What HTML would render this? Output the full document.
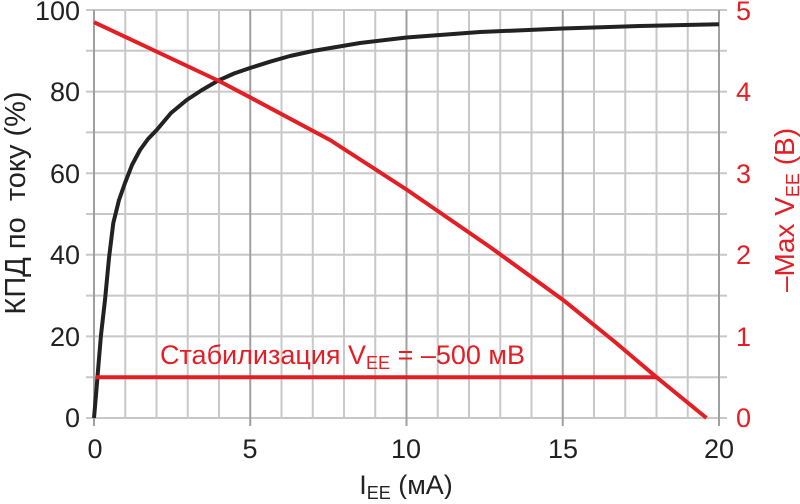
<!DOCTYPE html><html><head><style>body{margin:0;background:#fff}</style></head><body>
<svg width="800" height="499" xmlns="http://www.w3.org/2000/svg" font-family="Liberation Sans, sans-serif">
<g stroke="#c8c8c8" stroke-width="2">
<line x1="125.25" y1="10" x2="125.25" y2="418"/><line x1="156.5" y1="10" x2="156.5" y2="418"/><line x1="187.75" y1="10" x2="187.75" y2="418"/><line x1="219" y1="10" x2="219" y2="418"/>
<line x1="281.5" y1="10" x2="281.5" y2="418"/><line x1="312.75" y1="10" x2="312.75" y2="418"/><line x1="344" y1="10" x2="344" y2="418"/><line x1="375.25" y1="10" x2="375.25" y2="418"/>
<line x1="437.75" y1="10" x2="437.75" y2="418"/><line x1="469" y1="10" x2="469" y2="418"/><line x1="500.25" y1="10" x2="500.25" y2="418"/><line x1="531.5" y1="10" x2="531.5" y2="418"/>
<line x1="594" y1="10" x2="594" y2="418"/><line x1="625.25" y1="10" x2="625.25" y2="418"/><line x1="656.5" y1="10" x2="656.5" y2="418"/><line x1="687.75" y1="10" x2="687.75" y2="418"/>
<line x1="86" y1="10" x2="727" y2="10"/><line x1="86" y1="50.8" x2="727" y2="50.8"/><line x1="86" y1="91.6" x2="727" y2="91.6"/><line x1="86" y1="132.4" x2="727" y2="132.4"/><line x1="86" y1="173.2" x2="727" y2="173.2"/><line x1="86" y1="214" x2="727" y2="214"/><line x1="86" y1="254.8" x2="727" y2="254.8"/><line x1="86" y1="295.6" x2="727" y2="295.6"/><line x1="86" y1="336.4" x2="727" y2="336.4"/><line x1="86" y1="377.2" x2="727" y2="377.2"/><line x1="86" y1="418" x2="727" y2="418"/>
</g>
<g stroke="#a0a0a0" stroke-width="2">
<line x1="94" y1="10" x2="94" y2="426"/><line x1="250.25" y1="10" x2="250.25" y2="426"/><line x1="406.5" y1="10" x2="406.5" y2="426"/><line x1="562.75" y1="10" x2="562.75" y2="426"/><line x1="719" y1="10" x2="719" y2="426"/>
</g>
<polyline fill="none" stroke="#222" stroke-width="4" stroke-linejoin="round" points="94,418 96,395 98.3,367 101,335 105,300 109,258 113.3,223 119,200 125,183 132,165 140,150 148,139 156.7,130 171,113 186.7,100 202,90 218,80.7 234,73.5 250,68 270,61.7 290,56 312.8,51 360,43 406.5,37.5 480,32 562.8,28.5 640,26 719,24.3"/>
<polyline fill="none" stroke="#e31e24" stroke-width="4" stroke-linejoin="round" points="94,22.2 219,81 250,97.3 330,140 406.5,189.5 490,247 562.8,299.7 615,342 656.5,377.2 706.5,418"/>
<line x1="96" y1="377.2" x2="656" y2="377.2" stroke="#e31e24" stroke-width="4"/>
<text x="160" y="364" fill="#e31e24" font-size="27">Стабилизация V<tspan font-size="18" dy="5">EE</tspan><tspan dy="-5"> = –500 мВ</tspan></text>
<g font-size="27" fill="#222" text-anchor="end">
<text x="80" y="20">100</text><text x="80" y="101">80</text><text x="80" y="183">60</text><text x="80" y="264">40</text><text x="80" y="346">20</text><text x="80" y="427">0</text></g>
<g font-size="27" fill="#222" text-anchor="middle">
<text x="95" y="458">0</text><text x="250" y="458">5</text><text x="406" y="458">10</text><text x="563" y="458">15</text><text x="719" y="458">20</text></g>
<g font-size="27" fill="#e31e24">
<text x="736" y="20">5</text><text x="736" y="101">4</text><text x="736" y="183">3</text><text x="736" y="264">2</text><text x="736" y="346">1</text><text x="736" y="427">0</text></g>
<text x="406" y="494" font-size="27" fill="#222" text-anchor="middle">I<tspan font-size="18" dy="5">EE</tspan><tspan dy="-5"> (мА)</tspan></text>
<text transform="translate(25,203) rotate(-90)" font-size="29" fill="#222" text-anchor="middle" xml:space="preserve">КПД по  току (%)</text>
<text transform="translate(794,210) rotate(-90)" font-size="28" fill="#e31e24" text-anchor="middle">–Max V<tspan font-size="18" dy="5">EE</tspan><tspan dy="-5"> (В)</tspan></text>
</svg>
</body></html>
